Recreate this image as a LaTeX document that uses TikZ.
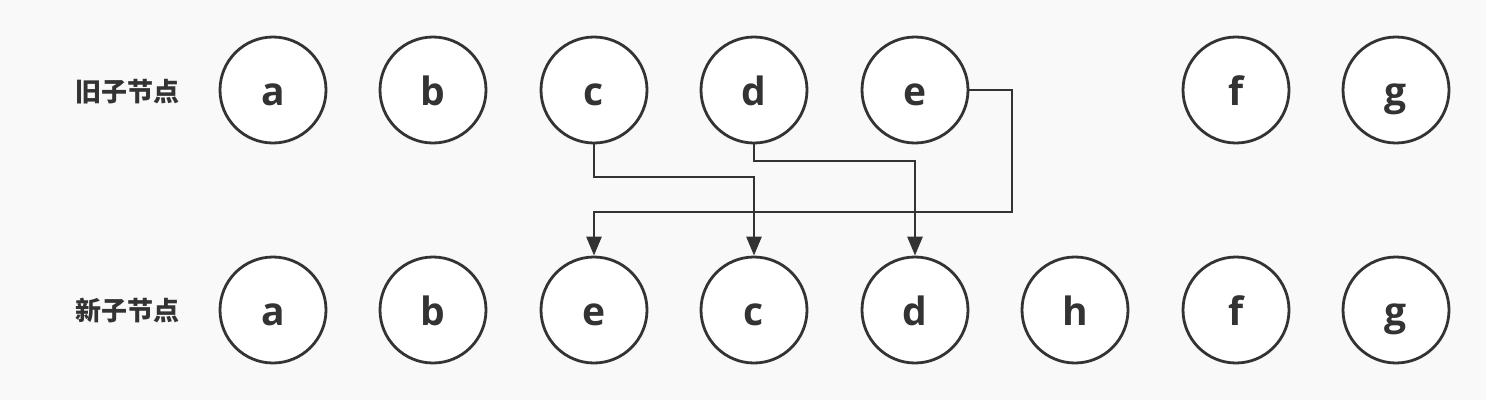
\documentclass[tikz,border=0pt]{standalone}
\usepackage{fontspec}
\setmainfont{Noto Sans}
\newfontfamily\lf{Open Sans}
\newfontfamily\cjk{Noto Sans CJK SC}
\usetikzlibrary{arrows.meta}
\definecolor{ink}{HTML}{333333}
\definecolor{bg}{HTML}{F9F9F9}
\begin{document}
\begin{tikzpicture}[x=1pt,y=-1pt,
  nd/.style={circle,draw=ink,fill=white,line width=2.8pt,minimum size=106pt,inner sep=0pt,
    text height=30pt,text depth=-4pt,
    font=\lf\bfseries\fontsize{39}{41}\selectfont,text=ink},
  lbl/.style={font=\cjk\bfseries\fontsize{26}{28}\selectfont,text=ink},
  conn/.style={draw=ink,line width=2.8pt,-{Triangle[width=15pt,length=19pt]}}]
\fill[bg] (0,0) rectangle (1486,400);
\useasboundingbox (0,0) rectangle (1486,400);
\node[lbl] (l1) at (127,92) {旧子节点};
\node[lbl] (l2) at (127,311) {新子节点};
\node[nd] (a1) at (273,90) {a};
\node[nd] (b1) at (433,90) {b};
\node[nd] (c1) at (594,90) {c};
\node[nd] (d1) at (754,90) {d};
\node[nd] (e1) at (915,90) {e};
\node[nd] (f1) at (1236,90) {f};
\node[nd] (g1) at (1396,90) {g};
\node[nd] (a2) at (273,310) {a};
\node[nd] (b2) at (433,310) {b};
\node[nd] (e2) at (594,310) {e};
\node[nd] (c2) at (754,310) {c};
\node[nd] (d2) at (915,310) {d};
\node[nd] (h2) at (1075,310) {h};
\node[nd] (f2) at (1236,310) {f};
\node[nd] (g2) at (1396,310) {g};
\coordinate (cm) at (754,177);
\coordinate (dm) at (915,161);
\coordinate (em) at (1012,212);
\draw[conn] (c1.south) |- (cm) -- (c2.north);
\draw[conn] (d1.south) |- (dm) -- (d2.north);
\draw[conn] (e1.east) -| (em) -| (e2.north);
\end{tikzpicture}
\end{document}
